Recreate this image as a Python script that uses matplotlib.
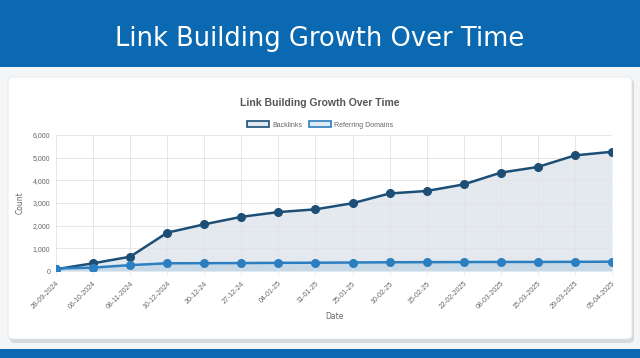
import matplotlib.pyplot as plt
import matplotlib.patches as mpatches
from matplotlib.ticker import FuncFormatter

dates = ["28-09-2024", "06-10-2024", "08-11-2024", "10-12-2024", "20-12-24", "27-12-24",
         "04-01-25", "11-01-25", "25-01-25", "10-02-25", "15-02-25", "22-02-2025",
         "08-03-2025", "15-03-2025", "29-03-2025", "05-04-2025"]
backlinks = [80, 340, 630, 1690, 2060, 2390, 2600, 2720, 2990, 3420, 3530, 3820,
             4340, 4590, 5100, 5260]
referring = [110, 150, 260, 340, 345, 350, 360, 365, 375, 385, 390, 395,
             400, 400, 405, 410]

dark = "#1d4f76"
light = "#2b7fc0"
banner = "#0a69b1"

fig = plt.figure(figsize=(6.4, 3.58), dpi=100)
fig.patch.set_facecolor("#f3f5f7")

# top banner and bottom strip
fig.add_artist(mpatches.Rectangle((0, 1 - 67 / 358), 1, 67 / 358, transform=fig.transFigure,
                                  facecolor=banner, edgecolor="none", zorder=0))
fig.add_artist(mpatches.Rectangle((0, 0), 1, 9 / 358, transform=fig.transFigure,
                                  facecolor=banner, edgecolor="none", zorder=0))
fig.text(0.5, 1 - 46 / 358, "Link Building Growth Over Time", color="white",
         fontsize=18.5, family="DejaVu Sans", ha="center", va="baseline")

# card with shadow
fig.add_artist(mpatches.FancyBboxPatch((10 / 640, 1 - 343 / 358), 624 / 640, 264 / 358,
                                       boxstyle="round,pad=0,rounding_size=0.01",
                                       transform=fig.transFigure, facecolor="#d6d9dd",
                                       edgecolor="none", zorder=0))
fig.add_artist(mpatches.FancyBboxPatch((8 / 640, 1 - 339 / 358), 624 / 640, 262 / 358,
                                       boxstyle="round,pad=0,rounding_size=0.01",
                                       transform=fig.transFigure, facecolor="white",
                                       edgecolor="#e6e8eb", linewidth=0.6, zorder=0))

ax = fig.add_axes([56 / 640, 1 - 271 / 358, 556 / 640, 136 / 358])
ax.set_facecolor("none")
x = list(range(len(dates)))

ax.fill_between(x, backlinks, 0, color=dark, alpha=0.12, linewidth=0)
ax.fill_between(x, referring, 0, color=light, alpha=0.15, linewidth=0)
ax.plot(x, backlinks, color=dark, linewidth=1.8, marker="o", markersize=5.5, label="Backlinks")
ax.plot(x, referring, color=light, linewidth=1.8, marker="o", markersize=5.5,
        label="Referring Domains")

ax.set_xlim(0, len(dates) - 1)
ax.set_ylim(0, 6000)
ax.set_yticks(range(0, 6001, 1000))
ax.yaxis.set_major_formatter(FuncFormatter(lambda v, p: f"{int(v):,}"))
ax.set_xticks(x)
ax.set_xticklabels(dates, rotation=45, ha="right", rotation_mode="anchor")
ax.grid(color="#e3e3e3", linewidth=0.6)
for s in ax.spines.values():
    s.set_visible(False)
ax.tick_params(colors="#666666", labelsize=5, length=3, width=0.5)
ax.tick_params(axis="y", length=0, pad=4)
ax.tick_params(axis="x", color="#e3e3e3")
ax.set_ylabel("Count", fontsize=5.5, color="#666666", labelpad=6)
ax.set_xlabel("Date", fontsize=5.5, color="#666666", labelpad=1)

for t in ax.get_xticklabels() + ax.get_yticklabels():
    t.set_family("Liberation Sans")

fig.text(0.5, 1 - 103 / 358, "Link Building Growth Over Time", fontsize=7.5,
         fontweight="bold", color="#555555", family="Liberation Sans",
         ha="center", va="center")

handles = [mpatches.Patch(facecolor="#e1e8ef", edgecolor=dark, linewidth=1.2, label="Backlinks"),
           mpatches.Patch(facecolor="#e1ebf5", edgecolor=light, linewidth=1.2,
                          label="Referring Domains")]
fig.legend(handles=handles, loc="center", bbox_to_anchor=(0.5, 1 - 125 / 358), ncol=2,
           frameon=False, prop={"family": "Liberation Sans", "size": 5},
           labelcolor="#666666", handlelength=3.2, handleheight=1.0, columnspacing=1.0,
           handletextpad=0.4)

fig.savefig("out.png", dpi=100, facecolor=fig.get_facecolor())
